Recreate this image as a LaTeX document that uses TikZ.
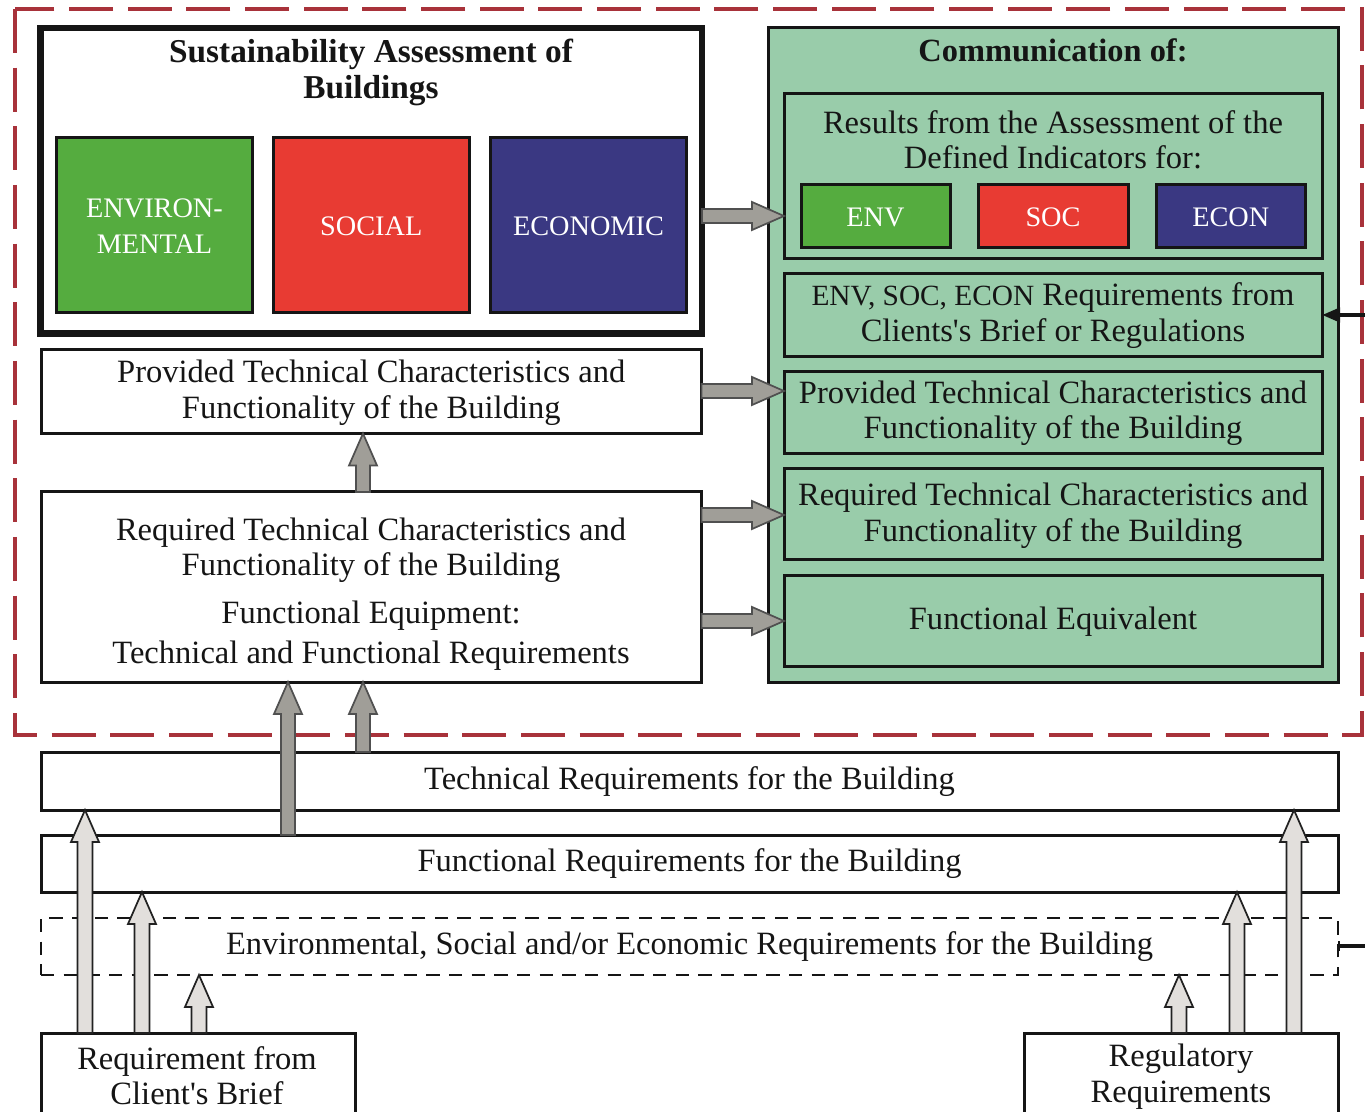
\documentclass[tikz,border=0pt]{standalone}
\usepackage{fontspec}
\setmainfont{Liberation Serif}[Ligatures=TeXOff]
\usetikzlibrary{calc,arrows.meta}
\definecolor{dashred}{HTML}{A8323A}
\definecolor{panelgreen}{HTML}{99CCAA}
\definecolor{envgreen}{HTML}{55AC3F}
\definecolor{socred}{HTML}{E83B33}
\definecolor{econblue}{HTML}{3A3882}
\definecolor{darkarrow}{HTML}{A09E98}
\definecolor{lightarrow}{HTML}{E2DFDC}
\definecolor{ink}{HTML}{151515}
\newcommand\st{\rule[-6.5pt]{0pt}{25pt}}
\newcommand\stb{\rule[-5pt]{0pt}{23.5pt}}
\newcommand\stc{\rule[-2.5pt]{0pt}{21pt}}
\newcommand\cp{\fontsize{21.2}{26.6}\selectfont}
\newcommand\cq{\fontsize{22}{26.6}\selectfont}
\newcommand\pxbox[7][]{%
  \pgfmathsetmacro\bw{(#4-#2)*0.75}\pgfmathsetmacro\bh{(#5-#3)*0.75}%
  \node[#1,minimum width=\bw pt,minimum height=\bh pt] (#6) at ({(#2+#4)/2},{(#3+#5)/2}) {#7};}
\newcommand\blockup[5]{% src dst x style halfwidth
  \coordinate (s) at (#3,0 |- #1.north);\coordinate (t) at (#3,0 |- #2.south);
  \draw[#4] ($(s)+(-#5,0)$) -- ($(t)+(-#5,32)$) -- ($(t)+(-14,32)$) -- (t) -- ($(t)+(14,32)$) -- ($(t)+(#5,32)$) -- ($(s)+(#5,0)$) -- cycle;}
\newcommand\blockright[3]{% src dst y
  \coordinate (s) at (#1.east |- 0,#3);\coordinate (t) at (#2.west |- 0,#3);
  \draw[darkblock] ($(s)+(0,-7)$) -- ($(t)+(-32,-7)$) -- ($(t)+(-32,-14)$) -- (t) -- ($(t)+(-32,14)$) -- ($(t)+(-32,7)$) -- ($(s)+(0,7)$) -- cycle;}
\tikzset{
  x=0.75pt,y=-0.75pt,
  base/.style={inner sep=0pt,outer sep=0pt,align=center,text=ink,font=\fontsize{24.4}{26.6}\selectfont},
  titletext/.style={base,font=\fontsize{25}{27}\selectfont\bfseries},
  plainbox/.style={base,draw=ink,line width=2.25pt,fill=white},
  greenbox/.style={base,draw=ink,line width=2.25pt,fill=panelgreen},
  dashbox/.style={base,draw=ink,line width=1.6pt,dash pattern=on 10pt off 7pt},
  colorbox/.style={base,draw=ink,line width=2.25pt,text=white,font=\cp},
  darkblock/.style={draw=ink!75,line width=1.3pt,line join=miter,fill=darkarrow},
  lightblock/.style={draw=ink!95,line width=1.3pt,line join=miter,fill=lightarrow},
}
\begin{document}
\begin{tikzpicture}
\useasboundingbox (0,0) rectangle (1365,1112);
\clip (0,0) rectangle (1365,1112);
\fill[white] (0,0) rectangle (1365,1112);
\coordinate (fa) at (15,9);\coordinate (fb) at (1362,735);
\draw[dashred,line width=3pt,dash pattern=on 33pt off 11pt] (fa) rectangle (fb);
% left column
\pxbox[plainbox,line width=5.2pt]{40.5}{28}{702}{333.5}{sa}{}
\node[titletext] (satitle) at (371,73) {\st Sustainability Assessment of\\\st Buildings};
\pxbox[colorbox,fill=envgreen]{56.5}{137.5}{252.5}{312.5}{env}{\stc ENVIRON-\\\stc MENTAL}
\pxbox[colorbox,fill=socred]{273}{137.5}{469.5}{312.5}{soc}{\stc SOCIAL}
\pxbox[colorbox,fill=econblue]{490.5}{137.5}{686.5}{312.5}{eco}{\stc ECONOMIC}
\pxbox[plainbox]{41}{350}{701.5}{433.5}{prov}{\stb Provided Technical Characteristics and\\\stb Functionality of the Building}
\pxbox[plainbox]{41}{492}{701.5}{682}{req}{}
\node[base] (reqtext) at (371,594) {\st Required Technical Characteristics and\\\st Functionality of the Building\\[9pt]\st Functional Equipment:\\[3.5pt]\st Technical and Functional Requirements};
% right panel
\pxbox[greenbox]{768.5}{28}{1338}{682}{panel}{}
\node[titletext] (paneltitle) at (1053,54) {\fontsize{24.3}{27}\selectfont\st Communication of:};
\pxbox[greenbox]{784}{94}{1322}{259}{res}{}
\node[base] (restext) at (1053,143) {\st Results from the Assessment of the\\\st Defined Indicators for:};
\pxbox[colorbox,fill=envgreen]{801}{184.5}{950}{247.5}{senv}{\stc ENV}
\pxbox[colorbox,fill=socred]{978}{184.5}{1128}{247.5}{ssoc}{\stc SOC}
\pxbox[colorbox,fill=econblue]{1156}{184.5}{1305.5}{247.5}{secon}{\stc ECON}
\pxbox[greenbox]{784}{274}{1322}{357}{rq}{\st {\cq ENV, SOC, ECON} Requirements from\\\st Clients's Brief or Regulations}
\pxbox[greenbox]{784}{372}{1322}{454}{cprov}{\st Provided Technical Characteristics and\\\st Functionality of the Building}
\pxbox[greenbox]{784}{469}{1322}{560}{creq}{\stb Required Technical Characteristics and\\\stb Functionality of the Building}
\pxbox[greenbox]{784}{576}{1322}{666}{equ}{\st Functional Equivalent}
% lower bars
\pxbox[plainbox]{41}{752}{1338}{810}{tech}{\st Technical Requirements for the Building}
\pxbox[plainbox]{41}{835}{1338}{892}{func}{\st Functional Requirements for the Building}
\pxbox[dashbox]{41}{918}{1338}{975}{esec}{\st Environmental, Social and/or Economic Requirements for the Building}
\pxbox[plainbox]{41}{1033}{355}{1150}{client}{}
\node[base] (clienttext) at (197,1079) {\st Requirement from\\\st Client's Brief};
\pxbox[plainbox]{1024}{1033}{1338}{1150}{regul}{}
\node[base] (regultext) at (1181,1076.5) {\st Regulatory\\\st Requirements};
% block arrows
\blockright{sa}{res}{216}
\blockright{prov}{cprov}{391}
\blockright{req}{creq}{515}
\blockright{req}{equ}{621}
\blockup{req}{prov}{363}{darkblock}{7}
\blockup{func}{req}{288}{darkblock}{7}
\blockup{tech}{req}{363}{darkblock}{7}
\blockup{client}{tech}{85}{lightblock}{7.5}
\blockup{client}{func}{142}{lightblock}{7.5}
\blockup{client}{esec}{199}{lightblock}{7.5}
\blockup{regul}{esec}{1179}{lightblock}{7.5}
\blockup{regul}{func}{1237}{lightblock}{7.5}
\blockup{regul}{tech}{1294}{lightblock}{7.5}
% feedback line ends
\coordinate (edgeA) at (1365,315);\coordinate (edgeB) at (1365,946);
\draw[ink,line width=3pt,-{Triangle[length=13.5pt,width=10.5pt]}] (edgeA) -- (rq.east |- edgeA);
\draw[ink,line width=3pt,{Bar[width=8pt,line width=1.5pt]}-] (esec.east |- edgeB) -- (edgeB);
\end{tikzpicture}
\end{document}
